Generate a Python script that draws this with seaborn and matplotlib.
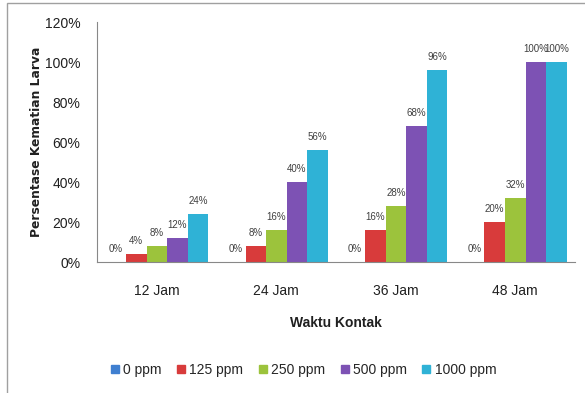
import matplotlib
matplotlib.use("Agg")
import matplotlib.pyplot as plt
from matplotlib.patches import Rectangle
from matplotlib.lines import Line2D
import seaborn as sns
import pandas as pd

# Mortality data (fraction of larvae dead) per contact time and concentration
waktu = ["12 Jam", "24 Jam", "36 Jam", "48 Jam"]
konsentrasi = ["0 ppm", "125 ppm", "250 ppm", "500 ppm", "1000 ppm"]
ppm_0 = [0.00, 0.00, 0.00, 0.00]
ppm_125 = [0.04, 0.08, 0.16, 0.20]
ppm_250 = [0.08, 0.16, 0.28, 0.32]
ppm_500 = [0.12, 0.40, 0.68, 1.00]
ppm_1000 = [0.24, 0.56, 0.96, 1.00]
y_ticks = [0.0, 0.2, 0.4, 0.6, 0.8, 1.0, 1.2]
y_tick_labels = ["0%", "20%", "40%", "60%", "80%", "100%", "120%"]

warna = ["#3f7fd0", "#d83b3b", "#9cc33c", "#7d52b4", "#2fb2d6"]

series = [ppm_0, ppm_125, ppm_250, ppm_500, ppm_1000]
rows = []
for k, vals in zip(konsentrasi, series):
    for w, v in zip(waktu, vals):
        rows.append({"Waktu": w, "Konsentrasi": k, "Nilai": v})
df = pd.DataFrame(rows)

sns.set_style("white")
sans = ["Liberation Sans", "DejaVu Sans"]

fig = plt.figure(figsize=(5.85, 3.93), dpi=100)
ax = fig.add_axes([0.166, 0.333, 0.817, 0.611])

sns.barplot(data=df, x="Waktu", y="Nilai", hue="Konsentrasi",
            order=waktu, hue_order=konsentrasi, palette=warna, saturation=1,
            width=0.86, gap=0, legend=False, ax=ax,
            edgecolor="none", errorbar=None)

for cont, vals in zip(ax.containers, series):
    ax.bar_label(cont, labels=[f"{round(v*100)}%" for v in vals], padding=6,
                 fontsize=7, family=sans, color="#404040")

ax.set_ylim(0, 1.2)
ax.set_xlim(-0.5, 3.5)
ax.set_yticks(y_ticks)
ax.set_yticklabels(y_tick_labels, family=sans, fontsize=10, color="#202020")
ax.tick_params(axis="y", length=0, pad=12)
ax.tick_params(axis="x", length=0, pad=16)
for lbl in ax.get_xticklabels():
    lbl.set_family(sans)
    lbl.set_fontsize(10)
    lbl.set_color("#202020")

for s in ["top", "right"]:
    ax.spines[s].set_visible(False)
ax.spines["left"].set_color("#888888")
ax.spines["bottom"].set_color("#888888")
ax.spines["left"].set_linewidth(0.8)
ax.spines["bottom"].set_linewidth(0.8)

ax.set_ylabel("")
ax.set_xlabel("")
fig.text(37 / 585, 1 - 142 / 393, "Persentase Kematian Larva", rotation=90,
         ha="center", va="center", fontsize=8.8, fontweight="bold",
         family="DejaVu Sans", color="#202020")
fig.text(0.574, 1 - 323 / 393, "Waktu Kontak", ha="center", va="center",
         fontsize=10, fontweight="bold", family=sans, color="#202020")

handles = [Line2D([], [], marker="s", linestyle="none", markersize=5.5,
                  markerfacecolor=c, markeredgecolor=c) for c in warna]
fig.legend(handles, konsentrasi, loc="center", bbox_to_anchor=(0.515, 0.058),
           ncol=5, frameon=False, handletextpad=0.0, columnspacing=0.8,
           handlelength=1.2, prop={"family": sans, "size": 10})

# outer chart frame
fig.patches.append(Rectangle((7 / 585, -0.05), 1.1, 1 - 3 / 393 + 0.05,
                             transform=fig.transFigure, fill=False,
                             edgecolor="#a0a0a0", linewidth=1.0))

fig.savefig("out.png", dpi=100)
